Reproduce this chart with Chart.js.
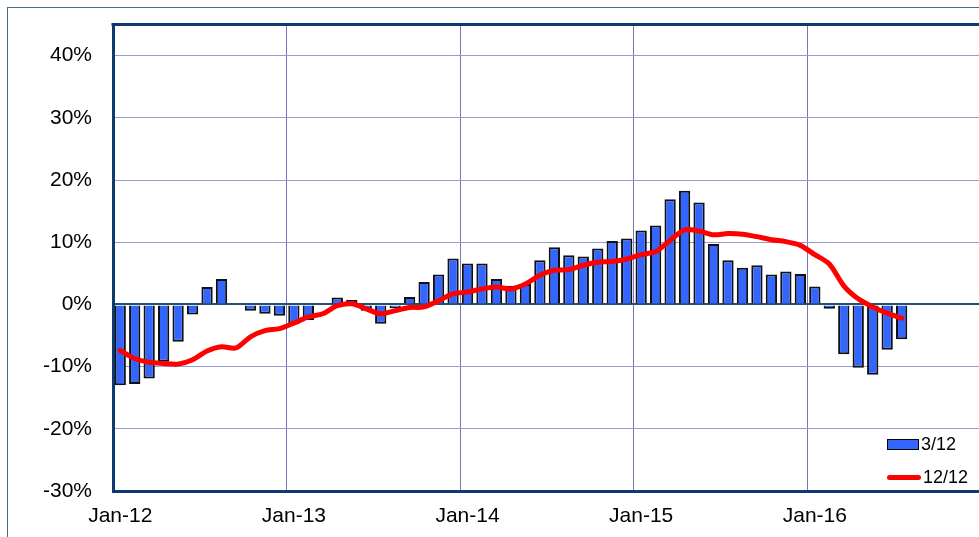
<!DOCTYPE html>
<html>
<head>
<meta charset="utf-8">
<script src="https://cdn.jsdelivr.net/npm/chart.js@4/dist/chart.umd.min.js"></script>
<style>
  html, body { margin: 0; padding: 0; background: #fff; overflow: hidden; }
  #frame {
    position: absolute; left: 7px; top: 7px; width: 1000px; height: 600px;
    border-left: 1.5px solid #4f6b8c; border-top: 1.5px solid #4f6b8c;
  }
  #wrap { position: absolute; left: 0; top: -9px; width: 987px; height: 546px; }
  #legend {
    position: absolute; left: 887px; top: 428px;
    font: 18px "Liberation Sans", Arial, sans-serif; color: #000;
  }
  .item { display: flex; align-items: center; height: 33px; }
  .swatch-bar { width: 30px; height: 9px; background: #3366ff; border: 1.5px solid #000; margin-right: 2px; }
  .swatch-line { width: 34px; height: 5px; background: #ff0000; border-radius: 3px; margin-right: 2px; }
</style>
</head>
<body>
<div id="frame"></div>
<div id="wrap"><canvas id="chart"></canvas></div>
<div id="legend"></div>
<script>
const years = ["12", "13", "14", "15", "16"];
const monthNames = ["Jan", "Feb", "Mar", "Apr", "May", "Jun", "Jul", "Aug", "Sep", "Oct", "Nov", "Dec"];
const categories = [];
years.forEach((y) => monthNames.forEach((m) => categories.push(`${m}-${y}`)));

// 3/12 change, % (bars)
const threeMonth = [
  -13.0, -12.8, -11.9, -9.2, -6.0, -1.6, 2.8, 4.1, 0.1, -1.0, -1.5, -1.8,
  -3.2, -2.5, 0.2, 1.1, 0.7, -1.0, -3.1, -0.6, 1.2, 3.6, 4.8, 7.4,
  6.6, 6.6, 4.1, 3.0, 3.3, 7.1, 9.2, 7.9, 7.7, 9.0, 10.2, 10.6,
  11.9, 12.7, 16.9, 18.3, 16.4, 9.7, 7.1, 5.9, 6.3, 4.8, 5.3, 4.9,
  2.9, -0.7, -8.0, -10.2, -11.3, -7.3, -5.6,
];

// 12/12 change, % (line)
const twelveMonth = [
  -7.4, -8.7, -9.3, -9.5, -9.6, -8.9, -7.5, -6.8, -7.0, -5.2, -4.2, -3.9,
  -3.0, -2.0, -1.5, -0.2, 0.1, -0.7, -1.5, -1.0, -0.5, -0.4, 0.6, 1.7,
  2.0, 2.5, 2.8, 2.5, 3.3, 4.7, 5.5, 5.6, 6.3, 6.8, 6.9, 7.3,
  8.0, 8.5, 10.3, 12.0, 11.8, 11.2, 11.4, 11.3, 10.9, 10.4, 10.1, 9.5,
  8.0, 6.5, 3.0, 0.9, -0.4, -1.4, -2.2,
];

const yMin = -30;
const yMax = 45;
const yStep = 10;

const navy = "#0d3b6e";
const gridColor = "#9a9ad0";
const font = { family: '"Liberation Sans", Arial, sans-serif', size: 21 };

// top edge of the plot frame
const frameTop = {
  id: "frameTop",
  afterDraw(chart) {
    const { ctx, chartArea } = chart;
    ctx.save();
    ctx.strokeStyle = navy;
    ctx.lineWidth = 3;
    ctx.beginPath();
    ctx.moveTo(chartArea.left - 1.5, chartArea.top);
    ctx.lineTo(chartArea.right, chartArea.top);
    ctx.stroke();
    ctx.restore();
  },
};

const chart = new Chart(document.getElementById("chart"), {
  data: {
    labels: categories,
    datasets: [
      {
        type: "line",
        label: "12/12",
        data: twelveMonth,
        borderColor: "#ff0000",
        borderWidth: 5,
        pointRadius: 0,
        tension: 0.3,
        borderCapStyle: "round",
        order: 0,
      },
      {
        type: "bar",
        label: "3/12",
        data: threeMonth,
        backgroundColor: "#3366ff",
        borderColor: "#111",
        borderWidth: 2,
        barPercentage: 0.78,
        categoryPercentage: 1,
        order: 1,
      },
    ],
  },
  options: {
    responsive: true,
    maintainAspectRatio: false,
    animation: false,
    layout: { padding: { top: 0, left: 0, right: 0, bottom: 0 } },
    plugins: {
      legend: { display: false },
      tooltip: { enabled: false },
    },
    scales: {
      x: {
        offset: true,
        grid: {
          offset: true,
          drawTicks: false,
          color: (c) => (c.index % 12 === 0 ? "#7777c0" : "transparent"),
          lineWidth: 1,
        },
        border: { color: navy, width: 3 },
        ticks: {
          autoSkip: false,
          maxRotation: 0,
          minRotation: 0,
          color: "#000",
          font,
          padding: 13,
          callback: (v, i) => (i % 12 === 0 ? categories[i] : ""),
        },
        afterFit: (scale) => { scale.height = 46; },
      },
      y: {
        min: yMin,
        max: yMax,
        grid: {
          drawTicks: false,
          color: (c) => (c.tick && c.tick.value === 0 ? "#245078" : gridColor),
          lineWidth: (c) => (c.tick && c.tick.value === 0 ? 2 : 1),
        },
        border: { color: navy, width: 3 },
        ticks: {
          stepSize: yStep,
          includeBounds: false,
          color: "#000",
          font,
          padding: 21,
          callback: (v) => `${v}%`,
        },
        afterFit: (scale) => { scale.width = 113; },
      },
    },
  },
  plugins: [frameTop],
});

// legend inside the plot, lower right
const legendEl = document.getElementById("legend");
[
  { cls: "swatch-bar", label: chart.data.datasets[1].label },
  { cls: "swatch-line", label: chart.data.datasets[0].label },
].forEach((entry) => {
  const row = document.createElement("div");
  row.className = "item";
  const sw = document.createElement("span");
  sw.className = entry.cls;
  const txt = document.createElement("span");
  txt.textContent = entry.label;
  row.appendChild(sw);
  row.appendChild(txt);
  legendEl.appendChild(row);
});
</script>
</body>
</html>
